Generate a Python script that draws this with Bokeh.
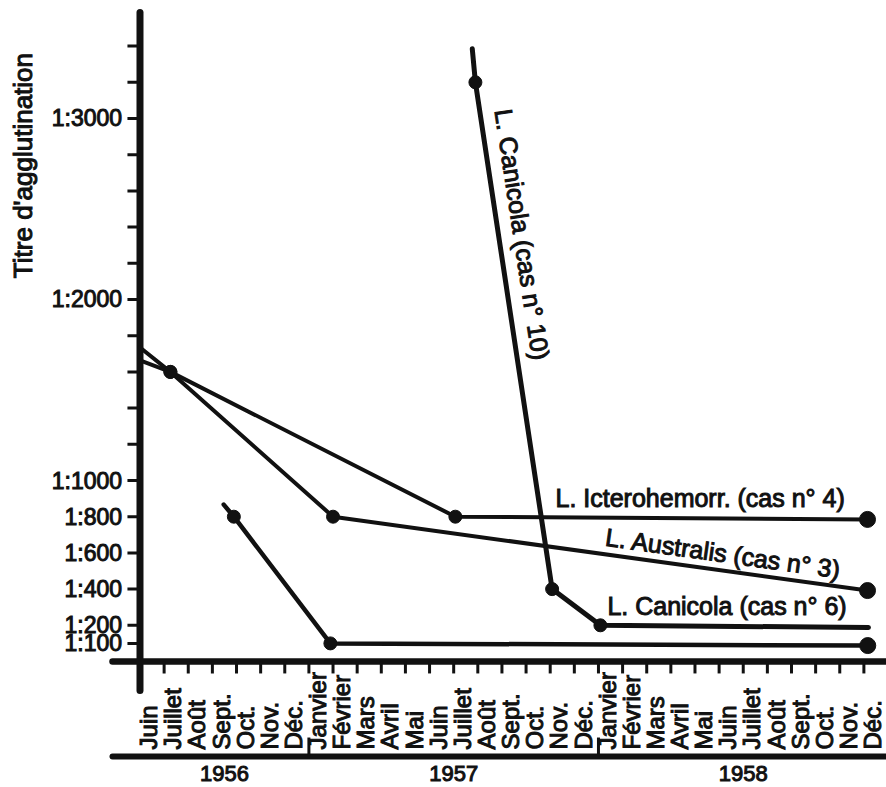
from bokeh.plotting import figure
from bokeh.models import Range1d, ColumnDataSource
from bokeh.core.properties import value
from bokeh.embed import file_html
from bokeh.resources import INLINE

# ---------------- data ----------------
# x = months counted from the start of June 1956, y = agglutination titre (1:y)
month_labels = ["Juin", "Juillet", "Août", "Sept.", "Oct.", "Nov.", "Déc.",
                "Janvier", "Février", "Mars", "Avril", "Mai", "Juin", "Juillet",
                "Août", "Sept.", "Oct.", "Nov.", "Déc.",
                "Janvier", "Février", "Mars", "Avril", "Mai", "Juin", "Juillet",
                "Août", "Sept.", "Oct.", "Nov.", "Déc."]
years = ["1956", "1957", "1958"]
year_start = [0, 7, 19]
year_end = [7, 19, 31]

y_tick_values = [100, 200, 400, 600, 800, 1000, 1200, 1400, 1600, 1800, 2000,
                 2200, 2400, 2600, 2800, 3000, 3200, 3400]
y_labelled = [100, 200, 400, 600, 800, 1000, 2000, 3000]

australis_month = [0.0, 1.26, 8.0, 30.15]
australis_titre = [1735, 1600, 800, 392]
australis_dot = [False, True, True, True]

ictero_month = [0.0, 1.26, 13.07, 30.15]
ictero_titre = [1663, 1600, 800, 785]
ictero_dot = [False, True, True, True]

canicola6_month = [3.47, 3.89, 7.89, 30.16]
canicola6_titre = [867, 800, 100, 88]
canicola6_dot = [False, True, True, True]

canicola10_month = [13.77, 13.9, 17.08, 19.08, 30.19]
canicola10_titre = [3385, 3200, 400, 200, 188]
canicola10_dot = [False, True, True, True, False]

series_labels = ["L. Icterohemorr. (cas n° 4)", "L. Australis (cas n° 3)",
                 "L. Canicola (cas n° 6)", "L. Canicola (cas n° 10)"]

# ---------------- figure ----------------
INK = "#111111"
FONT = value("Liberation Sans")

p = figure(width=886, height=787,
           x_range=Range1d(-5.781, 30.937), y_range=Range1d(-696.1, 3651.9),
           output_backend="svg", toolbar_location=None,
           x_axis_location=None, y_axis_location=None,
           min_border=0, outline_line_color=None,
           background_fill_color="white", border_fill_color="white")
p.grid.visible = False

n_months = len(month_labels)

# axis geometry (data units)
y_axis_top, y_axis_bottom = 3585, -160
h_left, h_right = -1.14, 31.6
tick_low = -66
year_bar_y = -525
divider_top = -420
ytick_left = -0.52

text_renderers = []


def add_text(**kw):
    r = p.text(text_font=FONT, text_color=INK, **kw)
    text_renderers.append(r)
    return r


# vertical axis
p.line([0, 0], [y_axis_bottom, y_axis_top], line_width=7, line_color=INK, line_cap="round")
# horizontal axis
p.line([h_left, h_right], [0, 0], line_width=6.5, line_color=INK, line_cap="round")
# year bar
p.line([h_left, h_right], [year_bar_y, year_bar_y], line_width=6, line_color=INK, line_cap="round")

# y ticks
p.segment(x0=[ytick_left] * len(y_tick_values), y0=y_tick_values,
          x1=[0] * len(y_tick_values), y1=y_tick_values, line_width=3, line_color=INK)
lab_vals = [v for v in y_tick_values if v in y_labelled]
add_text(x=[-0.74] * len(lab_vals), y=lab_vals, text=["1:%d" % v for v in lab_vals],
         text_align="right", text_baseline="middle", text_font_size=value("23px"))

# month boundary ticks
bounds = list(range(1, n_months))
p.segment(x0=bounds, y0=[0] * len(bounds), x1=bounds, y1=[tick_low] * len(bounds),
          line_width=3, line_color=INK)
# year dividers
divs = year_start[1:]
p.segment(x0=divs, y0=[year_bar_y] * len(divs), x1=divs, y1=[divider_top] * len(divs),
          line_width=3, line_color=INK)

# month labels
add_text(x=[k + 0.36 for k in range(n_months)], y=[-486] * n_months, text=month_labels,
         angle=90, angle_units="deg", text_align="left", text_baseline="middle",
         text_font_size=value("24px"))

# year labels
add_text(x=[(a + b) / 2 for a, b in zip(year_start, year_end)], y=[-619] * len(years),
         text=years, text_align="center", text_baseline="middle",
         text_font_size=value("22px"))

# y axis title
add_text(x=[-4.83], y=[2740], text=["Titre d'agglutination"], angle=90, angle_units="deg",
         text_align="center", text_baseline="middle", text_font_size=value("26px"))

# series
for months, titres, dots, lw in [
        (australis_month, australis_titre, australis_dot, 4),
        (ictero_month, ictero_titre, ictero_dot, 4),
        (canicola6_month, canicola6_titre, canicola6_dot, 4.5),
        (canicola10_month, canicola10_titre, canicola10_dot, 5)]:
    p.line(months, titres, line_width=lw, line_color=INK, line_join="round", line_cap="round")
    dm = [m for m, d in zip(months, dots) if d]
    dt = [t for t, d in zip(titres, dots) if d]
    sizes = [13] * len(dm)
    if dots[-1]:
        sizes[-1] = 16
    src = ColumnDataSource(dict(x=dm, y=dt, s=sizes))
    p.scatter("x", "y", size="s", source=src, fill_color=INK, line_color=INK)

# series labels
add_text(x=[17.22], y=[906], text=[series_labels[0]], text_align="left",
         text_baseline="alphabetic", text_font_size=value("25px"))
add_text(x=[19.30], y=[690], text=[series_labels[1]], angle=-8, angle_units="deg",
         text_align="left", text_baseline="alphabetic", text_font_size=value("25px"))
add_text(x=[19.37], y=[309], text=[series_labels[2]], text_align="left",
         text_baseline="alphabetic", text_font_size=value("25px"))
add_text(x=[15.06], y=[3051], text=[series_labels[3]], angle=-81.4, angle_units="deg",
         text_align="left", text_baseline="alphabetic", text_font_size=value("25px"))

for r in text_renderers:
    try:
        r.glyph.text_outline_color = INK
    except Exception:
        pass

open("out.html", "w").write(file_html(p, INLINE))
